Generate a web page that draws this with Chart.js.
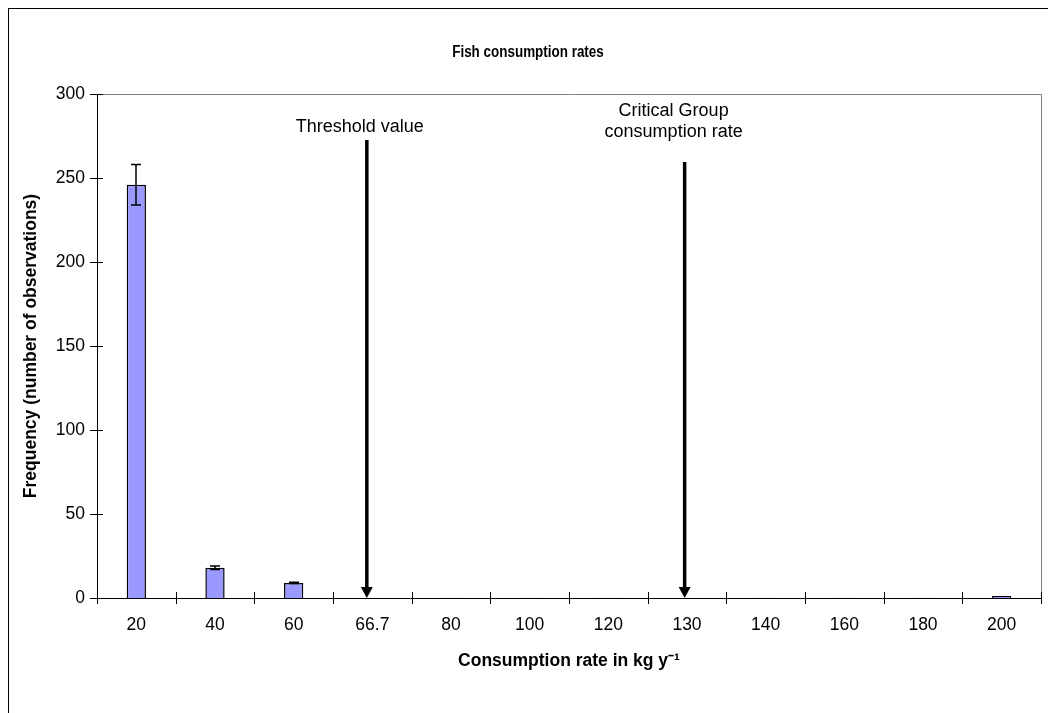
<!DOCTYPE html>
<html><head><meta charset="utf-8">
<script src="https://cdn.jsdelivr.net/npm/chart.js@4.4.1/dist/chart.umd.min.js"></script>
<style>html,body{margin:0;padding:0;background:#fff;}#wrap{width:1048px;height:713px;}</style>
</head><body><div id="wrap"><canvas id="c" width="1048" height="713"></canvas></div>
<script>
// ---- data ----
const chartTitle = 'Fish consumption rates';
const categories = ['20','40','60','66.7','80','100','120','130','140','160','180','200'];
const frequency  = [246, 18, 9, 0, 0.2, 0.2, 0.2, 0, 0.2, 0.2, 0.2, 1.2];
const errorBars  = [12, 1, 0.4, 0, 0, 0, 0, 0, 0, 0, 0, 0];
const yTickStep = 50, yMin = 0, yMax = 300;
// annotations (category index, data values)
const markerTexts    = [['Threshold value'], ['Critical Group', 'consumption rate']];
const markerCats     = [2.93, 6.97];
const markerTops     = [272.6, 259.5];
const markerTextCats = [2.84, 6.83];
const markerTextVals = [280.4, 289.9];

const FONT = '"Liberation Sans", Arial, Helvetica, sans-serif';
Chart.defaults.font.family = FONT;
Chart.defaults.color = '#000';

const decor = {
  id: 'decor',
  beforeDraw(chart) {
    const c = chart.ctx;
    c.save();
    c.fillStyle = '#fff';
    c.fillRect(0, 0, chart.width, chart.height);
    c.strokeStyle = '#000';
    c.lineWidth = 1;
    c.strokeRect(8.5, 8.5, chart.width + 20, chart.height + 20);
    // title (narrow bold face)
    c.font = 'bold 16px ' + FONT;
    c.fillStyle = '#000';
    c.textAlign = 'center'; c.textBaseline = 'middle';
    c.translate(528, 53);
    c.scale(0.84, 1);
    c.fillText(chartTitle, 0, 0);
    c.restore();
  },
  afterDraw(chart) {
    const c = chart.ctx, a = chart.chartArea;
    const xs = chart.scales.x, ys = chart.scales.y;
    c.save();
    // plot frame (top/right)
    c.strokeStyle = '#808080'; c.lineWidth = 1;
    c.beginPath();
    c.moveTo(Math.round(a.left) + 0.5, Math.round(a.top) + 0.5);
    c.lineTo(Math.round(a.right) + 0.5, Math.round(a.top) + 0.5);
    c.lineTo(Math.round(a.right) + 0.5, Math.round(a.bottom) + 0.5);
    c.stroke();
    // axes
    c.strokeStyle = '#000';
    c.beginPath();
    c.moveTo(Math.round(a.left) + 0.5, Math.round(a.top));
    c.lineTo(Math.round(a.left) + 0.5, Math.round(a.bottom) + 1);
    c.moveTo(Math.round(a.left), Math.round(a.bottom) + 0.5);
    c.lineTo(Math.round(a.right) + 1, Math.round(a.bottom) + 0.5);
    c.stroke();
    // x tick marks (between categories, crossing axis)
    c.beginPath();
    const n = categories.length;
    for (let i = 0; i <= n; i++) {
      const x = Math.round(xs.getPixelForValue(i - 0.5)) + 0.5;
      c.moveTo(x, a.bottom - 6); c.lineTo(x, a.bottom + 6);
    }
    // y tick marks
    for (let v = yMin; v <= yMax; v += yTickStep) {
      const y = Math.round(ys.getPixelForValue(v)) + 0.5;
      c.moveTo(a.left - 7, y); c.lineTo(a.left + 6, y);
    }
    c.stroke();
    // error bars
    c.lineWidth = 1.5;
    c.beginPath();
    const meta = chart.getDatasetMeta(0);
    meta.data.forEach((bar, i) => {
      const e = errorBars[i];
      if (!e) return;
      const x = Math.round(bar.x);
      const y1 = ys.getPixelForValue(frequency[i] + e);
      const y2 = ys.getPixelForValue(frequency[i] - e);
      c.moveTo(x, y1); c.lineTo(x, y2);
      c.moveTo(x - 5, y1); c.lineTo(x + 5, y1);
      c.moveTo(x - 5, y2); c.lineTo(x + 5, y2);
    });
    c.stroke();
    // arrows
    c.fillStyle = '#000';
    markerCats.forEach((cat, i) => {
      const x = xs.getPixelForValue(cat);
      const yTop = ys.getPixelForValue(markerTops[i]);
      const yTip = ys.getPixelForValue(0);
      c.lineWidth = 3.5;
      c.beginPath();
      c.moveTo(x, yTop); c.lineTo(x, yTip - 9);
      c.stroke();
      c.beginPath();
      c.moveTo(x - 6, yTip - 11); c.lineTo(x + 6, yTip - 11); c.lineTo(x, yTip); c.closePath();
      c.fill();
      // labels
      c.font = '18px ' + FONT;
      c.textAlign = 'center'; c.textBaseline = 'middle';
      const tx = xs.getPixelForValue(markerTextCats[i]);
      const ty = ys.getPixelForValue(markerTextVals[i]);
      markerTexts[i].forEach((t, k) => c.fillText(t, tx, ty + k * 21));
    });
    c.restore();
  }
};

new Chart(document.getElementById('c'), {
  type: 'bar',
  data: {
    labels: categories,
    datasets: [{
      data: frequency,
      backgroundColor: '#9999FF',
      borderColor: '#000',
      borderWidth: 1.5,
      categoryPercentage: 1,
      barPercentage: 0.245
    }]
  },
  options: {
    responsive: false,
    animation: false,
    devicePixelRatio: 1,
    layout: { padding: { left: 8, right: 7, top: 94, bottom: 0 } },
    plugins: {
      legend: { display: false },
      tooltip: { enabled: false },
      title: { display: false }
    },
    scales: {
      x: {
        grid: { display: false, drawTicks: false, tickLength: 0 },
        border: { display: false },
        ticks: { font: { size: 17.5 }, color: '#000', padding: 17, maxRotation: 0, autoSkip: false },
        title: { display: true, text: 'Consumption rate in kg y\u207B\u00B9', font: { size: 17.5, weight: 'bold' }, color: '#000', padding: { top: 0, bottom: 41.5 } },
        afterFit(s) { s.height = 115; }
      },
      y: {
        min: yMin, max: yMax,
        grid: { display: false, drawTicks: false, tickLength: 0 },
        border: { display: false },
        ticks: { stepSize: yTickStep, font: { size: 17.5 }, color: '#000', padding: 12 },
        title: { display: true, text: 'Frequency (number of observations)', font: { size: 17.5, weight: 'bold' }, color: '#000', padding: { top: 12.5, bottom: 0 } },
        afterFit(s) { s.width = 89; }
      }
    }
  },
  plugins: [decor]
});
</script></body></html>
